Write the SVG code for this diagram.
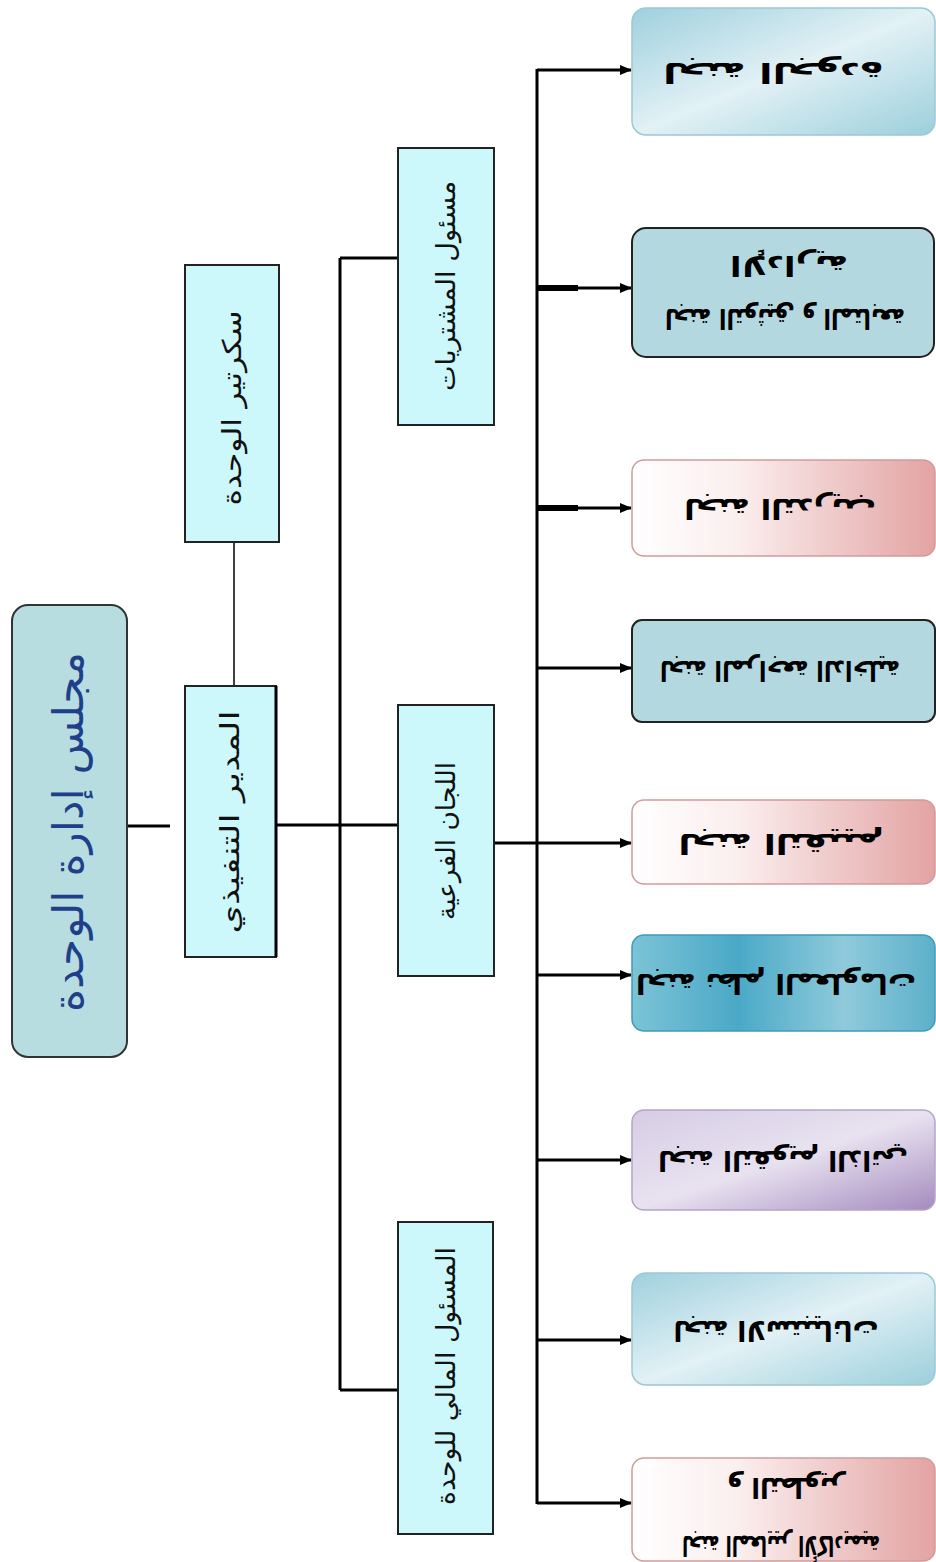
<svg xmlns="http://www.w3.org/2000/svg" width="936" height="1562" viewBox="0 0 936 1562">
<defs>
<style>
.ln{stroke:#000;stroke-width:3;fill:none}
.thin{stroke:#000;stroke-width:1.5;fill:none}
.mid{fill:#ccf8fc;stroke:#222;stroke-width:2}
.lbl{font-family:"DejaVu Sans",sans-serif;font-size:26px;fill:#111;text-anchor:middle;dominant-baseline:central}
.big{font-family:"DejaVu Sans",sans-serif;font-size:42px;fill:#1f3f8a;text-anchor:middle;dominant-baseline:central}
.rt{font-family:"DejaVu Sans",sans-serif;font-size:28px;font-weight:bold;fill:#000;text-anchor:middle;dominant-baseline:central}
</style>
<marker id="ah" markerWidth="12" markerHeight="10" refX="11" refY="5" orient="auto" markerUnits="userSpaceOnUse">
<path d="M0,0 L12,5 L0,10 Z" fill="#000"/>
</marker>
<linearGradient id="gBlue" x1="0" y1="0" x2="1" y2="1">
<stop offset="0" stop-color="#9fd0de"/>
<stop offset="0.5" stop-color="#e2f1f5"/>
<stop offset="1" stop-color="#9ccfdc"/>
</linearGradient>
<linearGradient id="gPink" x1="0" y1="0" x2="1" y2="0">
<stop offset="0" stop-color="#ffffff"/>
<stop offset="0.35" stop-color="#fbeeee"/>
<stop offset="1" stop-color="#e3a3a3"/>
</linearGradient>
<linearGradient id="gTeal" x1="0" y1="0" x2="1" y2="0">
<stop offset="0" stop-color="#7cc3d6"/>
<stop offset="0.35" stop-color="#4aa9c7"/>
<stop offset="0.7" stop-color="#8fcadb"/>
<stop offset="1" stop-color="#5cb0ca"/>
</linearGradient>
<linearGradient id="gPurple" x1="0" y1="0" x2="1" y2="1">
<stop offset="0" stop-color="#d6cce4"/>
<stop offset="0.5" stop-color="#e8e2f0"/>
<stop offset="1" stop-color="#a48bbe"/>
</linearGradient>
</defs>
<rect width="936" height="1562" fill="#fff"/>

<g id="connectors">
<line class="ln" x1="127" y1="826" x2="170" y2="826"/>
<line class="thin" x1="234" y1="542" x2="234" y2="686"/>
<line class="ln" x1="277" y1="825" x2="398" y2="825"/>
<line class="ln" x1="340" y1="258" x2="340" y2="1390"/>
<line class="ln" x1="340" y1="258" x2="398" y2="258"/>
<line class="ln" x1="340" y1="1390" x2="398" y2="1390"/>
<line class="ln" x1="494" y1="843" x2="537" y2="843"/>
<line class="ln" x1="537" y1="69" x2="537" y2="1504"/>
<line class="ln" x1="537" y1="70" x2="631" y2="70" marker-end="url(#ah)"/>
<line class="ln" x1="537" y1="288" x2="631" y2="288" marker-end="url(#ah)"/>
<line stroke="#000" stroke-width="6" x1="537" y1="288" x2="578" y2="288"/>
<line class="ln" x1="537" y1="508" x2="631" y2="508" marker-end="url(#ah)"/>
<line stroke="#000" stroke-width="6" x1="537" y1="508" x2="578" y2="508"/>
<line class="ln" x1="537" y1="668" x2="631" y2="668" marker-end="url(#ah)"/>
<line class="ln" x1="537" y1="843" x2="631" y2="843" marker-end="url(#ah)"/>
<line class="ln" x1="537" y1="975" x2="631" y2="975" marker-end="url(#ah)"/>
<line class="ln" x1="537" y1="1160" x2="631" y2="1160" marker-end="url(#ah)"/>
<line class="ln" x1="537" y1="1340" x2="631" y2="1340" marker-end="url(#ah)"/>
<line class="ln" x1="537" y1="1503" x2="631" y2="1503" marker-end="url(#ah)"/>
</g>

<g id="board">
<rect x="12" y="605" width="115" height="452" rx="16" fill="#b7dde0" stroke="#333" stroke-width="2"/>
<text class="big" x="68" y="832" transform="rotate(-90 68 832)" textLength="360" lengthAdjust="spacingAndGlyphs">مجلس إدارة الوحدة</text>
</g>

<g id="secretary">
<rect class="mid" x="185" y="265" width="94" height="277"/>
<text class="lbl" x="232" y="408" transform="rotate(-90 232 408)" textLength="195" lengthAdjust="spacingAndGlyphs">سكرتير الوحدة</text>
</g>

<g id="director">
<rect class="mid" x="185" y="686" width="91" height="271"/>
<line x1="276" y1="686" x2="276" y2="957" stroke="#000" stroke-width="3"/>
<text class="lbl" x="230" y="822" transform="rotate(-90 230 822)" textLength="223" lengthAdjust="spacingAndGlyphs">المدير   التنفيذي</text>
</g>

<g id="purchasing">
<rect class="mid" x="398" y="148" width="96" height="277"/>
<text class="lbl" x="446" y="286" transform="rotate(-90 446 286)" textLength="210" lengthAdjust="spacingAndGlyphs">مسئول المشتريات</text>
</g>

<g id="subcommittees">
<rect class="mid" x="398" y="705" width="96" height="271"/>
<text class="lbl" x="446" y="841" transform="rotate(-90 446 841)" textLength="158" lengthAdjust="spacingAndGlyphs">اللجان الفرعية</text>
</g>

<g id="finance">
<rect class="mid" x="398" y="1222" width="95" height="312"/>
<text class="lbl" x="446" y="1376" transform="rotate(-90 446 1376)" textLength="258" lengthAdjust="spacingAndGlyphs">المسئول المالي للوحدة</text>
</g>

<g id="c1">
<rect x="632" y="8" width="303" height="127" rx="14" fill="url(#gBlue)" stroke="#9cc8d4" stroke-width="1.5"/>
<text class="rt" x="773" y="72" transform="rotate(180 773 72)" textLength="220" lengthAdjust="spacingAndGlyphs">لجنة الجودة</text>
</g>

<g id="c2">
<rect x="632" y="228" width="302" height="129" rx="14" fill="#b4d8df" stroke="#222" stroke-width="2"/>
<text class="rt" x="789" y="265" transform="rotate(180 789 265)" textLength="118" lengthAdjust="spacingAndGlyphs">الإدارية</text>
<text class="rt" x="785" y="318" transform="rotate(180 785 318)" textLength="240" lengthAdjust="spacingAndGlyphs">لجنة التوثيق و المتابعة</text>
</g>

<g id="c3">
<rect x="632" y="460" width="303" height="96" rx="12" fill="url(#gPink)" stroke="#d29a9a" stroke-width="1.5"/>
<text class="rt" x="780" y="508" transform="rotate(180 780 508)" textLength="192" lengthAdjust="spacingAndGlyphs">لجنة التدريب</text>
</g>

<g id="c4">
<rect x="632" y="620" width="303" height="102" rx="10" fill="#b4d8df" stroke="#222" stroke-width="2"/>
<text class="rt" x="780" y="670" transform="rotate(180 780 670)" textLength="240" lengthAdjust="spacingAndGlyphs">لجنة المراجعة الداخلية</text>
</g>

<g id="c5">
<rect x="632" y="800" width="303" height="84" rx="12" fill="url(#gPink)" stroke="#d29a9a" stroke-width="1.5"/>
<text class="rt" x="781" y="843" transform="rotate(180 781 843)" textLength="205" lengthAdjust="spacingAndGlyphs">لجنة التقييم</text>
</g>

<g id="c6">
<rect x="632" y="935" width="303" height="96" rx="12" fill="url(#gTeal)" stroke="#3f9bb8" stroke-width="1.5"/>
<text class="rt" x="776" y="983" transform="rotate(180 776 983)" textLength="280" lengthAdjust="spacingAndGlyphs">لجنة نظم المعلومات</text>
</g>

<g id="c7">
<rect x="632" y="1110" width="303" height="100" rx="12" fill="url(#gPurple)" stroke="#b4a4c8" stroke-width="1.5"/>
<text class="rt" x="783" y="1160" transform="rotate(180 783 1160)" textLength="250" lengthAdjust="spacingAndGlyphs">لجنة التقويم الذاتي</text>
</g>

<g id="c8">
<rect x="632" y="1273" width="303" height="112" rx="14" fill="url(#gBlue)" stroke="#9cc8d4" stroke-width="1.5"/>
<text class="rt" x="776" y="1330" transform="rotate(180 776 1330)" textLength="205" lengthAdjust="spacingAndGlyphs">لجنة الاستبيانات</text>
</g>

<g id="c9">
<rect x="632" y="1458" width="303" height="103" rx="12" fill="url(#gPink)" stroke="#d29a9a" stroke-width="1.5"/>
<text class="rt" x="786" y="1487" transform="rotate(180 786 1487)" textLength="118" lengthAdjust="spacingAndGlyphs">و التطوير</text>
<text class="rt" x="781" y="1545" transform="rotate(180 781 1545)" textLength="198" lengthAdjust="spacingAndGlyphs">لجنة المعايير الأكاديمية</text>
</g>
</svg>
